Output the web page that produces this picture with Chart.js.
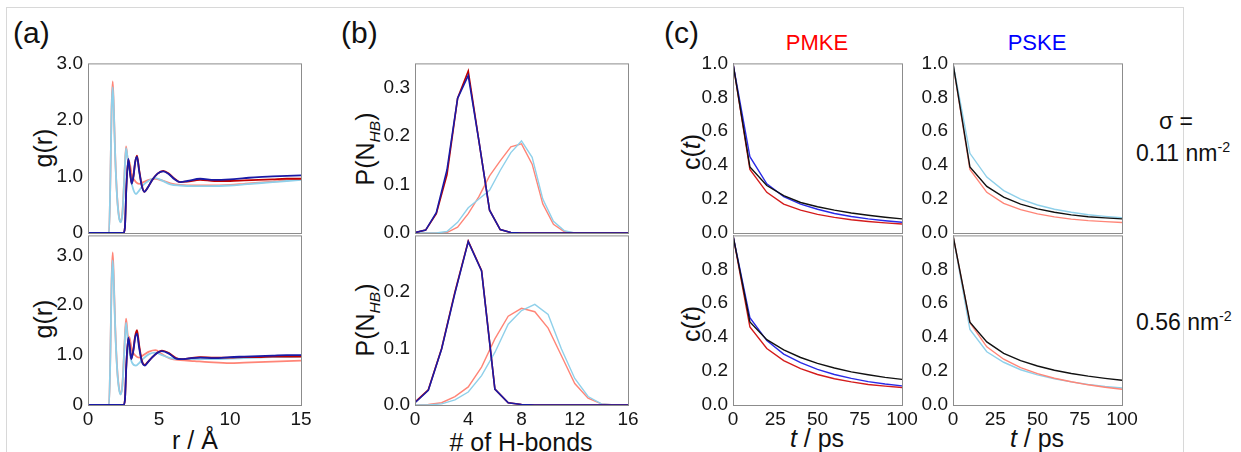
<!DOCTYPE html>
<html>
<head>
<meta charset="utf-8">
<script src="https://cdn.jsdelivr.net/npm/chart.js@4.4.0/dist/chart.umd.min.js"></script>
<style>
  body { margin: 0; width: 1241px; height: 452px; background: #fff; position: relative; overflow: hidden;
         font-family: 'Liberation Sans', Arial, sans-serif; color: #111; }
  .frame { position: absolute; left: 6px; top: 7px; width: 1176px; height: 470px; border: 1px solid #d8d8d8; }
  canvas { position: absolute; }
  .lbl { position: absolute; white-space: nowrap; line-height: 1; }
  .ctr { transform: translate(-50%, -50%); }
  .rot { transform: translate(-50%, -50%) rotate(-90deg); }
  .ax { font-size: 25px; }
  .pan { font-size: 30px; }
  .side { font-size: 23px; }
  sub, sup { font-size: 0.62em; line-height: 0; }
</style>
</head>
<body>
<div class="frame"></div>

<div class="lbl pan" style="left:13px; top:18px;">(a)</div>
<div class="lbl pan" style="left:341px; top:18px;">(b)</div>
<div class="lbl pan" style="left:664px; top:18px;">(c)</div>

<div class="lbl ctr" style="left:817px; top:43px; font-size:22px; color:#ff0000;">PMKE</div>
<div class="lbl ctr" style="left:1037px; top:43px; font-size:22px; color:#0000ff;">PSKE</div>

<div class="lbl side ctr" style="left:1176px; top:121px;">σ =</div>
<div class="lbl side" style="left:1136px; top:142px;">0.11 nm<sup>-2</sup></div>
<div class="lbl side" style="left:1136px; top:311px;">0.56 nm<sup>-2</sup></div>

<div class="lbl ax rot" style="left:43px; top:148px;">g(r)</div>
<div class="lbl ax rot" style="left:43px; top:319px;">g(r)</div>
<div class="lbl ax rot" style="left:365px; top:149px;">P(N<sub><i>HB</i></sub>)</div>
<div class="lbl ax rot" style="left:365px; top:320px;">P(N<sub><i>HB</i></sub>)</div>
<div class="lbl ax rot" style="left:691px; top:152px;">c(<i>t</i>)</div>
<div class="lbl ax rot" style="left:691px; top:324px;">c(<i>t</i>)</div>

<div class="lbl ax ctr" style="left:195px; top:440px;">r / Å</div>
<div class="lbl ax ctr" style="left:521px; top:442px;"># of H-bonds</div>
<div class="lbl ax ctr" style="left:817px; top:438px;"><i>t</i> / ps</div>
<div class="lbl ax ctr" style="left:1037px; top:438px;"><i>t</i> / ps</div>

<script>
// ---- g(r) data, sigma = 0.11 (top) and 0.56 (bottom) ----
const rLight = [0, 1.48, 1.58, 1.66, 1.74, 1.82, 1.92, 2.05, 2.18, 2.3, 2.42, 2.55, 2.68, 2.8, 2.92, 3.1, 3.38, 3.6, 3.9, 4.3, 4.75, 5.2, 5.8, 6.5, 7.5, 8.5, 10, 11, 12, 13, 14, 15];
const gSalmonTop = [0, 0, 1.0, 2.2, 2.68, 2.2, 1.35, 0.65, 0.3, 0.2, 0.35, 0.95, 1.53, 1.3, 1.25, 1.02, 0.9, 0.87, 0.9, 0.94, 0.96, 0.93, 0.88, 0.85, 0.84, 0.84, 0.85, 0.87, 0.89, 0.91, 0.93, 0.95];
const gSkyTop = [0, 0, 1.0, 2.15, 2.58, 2.15, 1.32, 0.63, 0.28, 0.19, 0.33, 0.92, 1.5, 1.3, 1.1, 0.85, 0.69, 0.75, 0.85, 0.93, 0.97, 0.93, 0.86, 0.84, 0.83, 0.83, 0.84, 0.86, 0.88, 0.9, 0.92, 0.94];
const gSalmonBot = [0, 0, 1.1, 2.5, 3.06, 2.5, 1.55, 0.75, 0.35, 0.22, 0.4, 1.1, 1.73, 1.4, 1.35, 1.1, 0.98, 0.95, 1.0, 1.07, 1.1, 1.02, 0.93, 0.9, 0.88, 0.86, 0.84, 0.85, 0.86, 0.87, 0.88, 0.89];
const gSkyBot = [0, 0, 1.05, 2.4, 2.9, 2.4, 1.5, 0.72, 0.33, 0.21, 0.38, 1.05, 1.65, 1.3, 1.05, 0.85, 0.79, 0.84, 0.93, 1.02, 1.05, 1.0, 0.94, 0.92, 0.92, 0.92, 0.93, 0.94, 0.95, 0.96, 0.96, 0.97];

const rDarkTop = [0, 2.5, 2.6, 2.7, 2.84, 2.95, 3.08, 3.2, 3.32, 3.45, 3.6, 3.8, 3.97, 4.2, 4.5, 4.9, 5.3, 5.7, 6.1, 6.5, 7.0, 7.9, 8.9, 10, 11, 12, 13, 14, 15];
const gBlueTop = [0, 0, 0.1, 0.8, 1.31, 1.1, 0.87, 1.0, 1.25, 1.35, 1.1, 0.82, 0.73, 0.8, 0.93, 1.05, 1.09, 1.04, 0.95, 0.9, 0.92, 0.96, 0.94, 0.95, 0.97, 0.99, 1.0, 1.01, 1.02];
const gRedTop = [0, 0, 0.1, 0.8, 1.3, 1.1, 0.88, 1.0, 1.25, 1.37, 1.12, 0.83, 0.73, 0.8, 0.93, 1.05, 1.1, 1.05, 0.96, 0.9, 0.91, 0.94, 0.92, 0.92, 0.93, 0.94, 0.95, 0.96, 0.96];
const rDarkBot = [0, 2.5, 2.6, 2.7, 2.84, 2.95, 3.05, 3.2, 3.32, 3.45, 3.6, 3.8, 4.0, 4.2, 4.5, 4.9, 5.2, 5.7, 6.2, 6.6, 7.0, 7.9, 8.9, 10, 11, 12, 13, 14, 15];
const gBlueBot = [0, 0, 0.1, 0.8, 1.35, 1.15, 0.92, 1.1, 1.35, 1.43, 1.15, 0.86, 0.79, 0.85, 0.95, 1.05, 1.08, 1.03, 0.93, 0.92, 0.93, 0.95, 0.94, 0.96, 0.97, 0.98, 0.99, 1.0, 1.0];
const gRedBot = [0, 0, 0.1, 0.8, 1.33, 1.15, 0.93, 1.12, 1.38, 1.5, 1.2, 0.88, 0.8, 0.86, 0.95, 1.05, 1.09, 1.04, 0.94, 0.92, 0.93, 0.96, 0.95, 0.95, 0.96, 0.96, 0.97, 0.97, 0.97];

// ---- H-bond distributions ----
const nhbTop = [0, 0.8, 1.6, 2.4, 3.2, 4.0, 4.8, 5.6, 6.4, 7.2, 8.0, 8.8, 9.6, 10.4, 11.2, 12.0, 12.8, 13.6, 14.4, 15.2, 16.0];
const pRedTop = [0.001, 0.006, 0.04, 0.12, 0.278, 0.334, 0.19, 0.047, 0.007, 0.001, 0, 0, 0, 0, 0, 0, 0, 0, 0, 0, 0];
const pBlueTop = [0.001, 0.006, 0.042, 0.13, 0.278, 0.325, 0.19, 0.047, 0.007, 0.001, 0, 0, 0, 0, 0, 0, 0, 0, 0, 0, 0];
const pSalmonTop = [0, 0, 0, 0.001, 0.012, 0.04, 0.075, 0.118, 0.149, 0.178, 0.184, 0.142, 0.06, 0.018, 0.003, 0, 0, 0, 0, 0, 0];
const pSkyTop = [0, 0, 0, 0.003, 0.022, 0.052, 0.07, 0.088, 0.129, 0.166, 0.19, 0.156, 0.07, 0.024, 0.005, 0, 0, 0, 0, 0, 0];

const nhbBot = [0, 1, 2, 3, 4, 5, 6, 7, 8, 9, 10, 11, 12, 13, 14, 15, 16];
const pRedBot = [0.005, 0.027, 0.1, 0.2, 0.29, 0.238, 0.028, 0.004, 0.001, 0, 0, 0, 0, 0, 0, 0, 0];
const pBlueBot = [0.004, 0.026, 0.099, 0.198, 0.289, 0.237, 0.028, 0.004, 0.001, 0, 0, 0, 0, 0, 0, 0, 0];
const pSalmonBot = [0, 0.001, 0.004, 0.015, 0.032, 0.067, 0.117, 0.157, 0.171, 0.165, 0.136, 0.087, 0.038, 0.012, 0.002, 0, 0];
const pSkyBot = [0, 0, 0.002, 0.009, 0.023, 0.052, 0.093, 0.143, 0.167, 0.178, 0.16, 0.099, 0.047, 0.015, 0.002, 0, 0];

// ---- c(t) autocorrelation ----
const tPs = [0, 10, 20, 30, 40, 50, 60, 70, 80, 90, 100];
const cPmBlackTop = [1, 0.39, 0.28, 0.22, 0.18, 0.155, 0.135, 0.118, 0.105, 0.093, 0.083];
const cPmBlueTop = [1, 0.45, 0.29, 0.215, 0.17, 0.14, 0.115, 0.097, 0.083, 0.072, 0.063];
const cPmRedTop = [1, 0.375, 0.24, 0.17, 0.135, 0.11, 0.092, 0.078, 0.068, 0.06, 0.053];
const cPmBlackBot = [1, 0.49, 0.385, 0.325, 0.28, 0.245, 0.218, 0.195, 0.178, 0.163, 0.151];
const cPmBlueBot = [1, 0.515, 0.38, 0.3, 0.25, 0.21, 0.18, 0.157, 0.138, 0.124, 0.113];
const cPmRedBot = [1, 0.46, 0.333, 0.262, 0.215, 0.18, 0.155, 0.136, 0.121, 0.111, 0.103];
const cPsBlackTop = [1, 0.39, 0.275, 0.212, 0.17, 0.142, 0.122, 0.107, 0.096, 0.089, 0.083];
const cPsSkyTop = [1, 0.47, 0.33, 0.25, 0.2, 0.165, 0.14, 0.122, 0.108, 0.098, 0.09];
const cPsSalmonTop = [1, 0.375, 0.24, 0.175, 0.138, 0.113, 0.095, 0.082, 0.073, 0.067, 0.062];
const cPsBlackBot = [1, 0.488, 0.372, 0.305, 0.262, 0.23, 0.205, 0.186, 0.17, 0.157, 0.146];
const cPsSalmonBot = [1, 0.485, 0.343, 0.27, 0.22, 0.185, 0.158, 0.137, 0.119, 0.105, 0.093];
const cPsSkyBot = [1, 0.446, 0.314, 0.252, 0.208, 0.178, 0.155, 0.136, 0.121, 0.109, 0.1];

// tick labels
const gXTicks = [0, 5, 10, 15];
const gYTicks = [0, 1, 2, 3];
const hXTicks = [0, 4, 8, 12, 16];
const hYTicksTop = [0, 0.1, 0.2, 0.3];
const hYTicksBot = [0, 0.1, 0.2];
const cXTicks = [0, 25, 50, 75, 100];
const cYTicksTop = [0, 0.2, 0.4, 0.6, 0.8, 1.0];
const cYTicksBot = [0, 0.2, 0.4, 0.6, 0.8];

// colours
const DARKRED = '#c00000';
const DARKBLUE = '#1a1aa6';
const SALMON = '#ff8577';
const SKY = '#8fd0ea';
const RED = '#d41c1c';
const BLUE = '#2a2ae6';
const BLACK = '#111111';

Chart.defaults.font.family = "'Liberation Sans', Arial, sans-serif";
Chart.defaults.font.size = 19;
Chart.defaults.color = '#161616';

// plot boxes (left, right) and rows (top, bottom)
const cols = { a: [88, 301], b: [415, 628], c1: [733, 902], c2: [953, 1122] };
const rows = [[61, 233], [233, 405]];
const PAD_L = 60, PAD_T = 14, PAD_R = 22, PAD_B = 30;

const framePlugin = {
    id: 'frame',
    afterDraw(chart) {
        const a = chart.chartArea;
        const ctx = chart.ctx;
        ctx.save();
        ctx.strokeStyle = '#8c8c8c';
        ctx.lineWidth = 1;
        ctx.strokeRect(a.left + 0.5, a.top + 0.5, a.right - a.left, a.bottom - a.top);
        ctx.restore();
    }
};

function line(xs, ys, color, width, smooth) {
    return {
        data: xs.map((x, i) => ({ x: x, y: ys[i] })),
        borderColor: color,
        borderWidth: width,
        pointRadius: 0,
        fill: false,
        cubicInterpolationMode: smooth ? 'monotone' : 'default',
        tension: 0
    };
}

// note: chart.js paints the first dataset on top, so lists go top -> bottom
function makeChart(col, row, datasets, xMax, xTicks, yMax, yTicks, showX, yFmt) {
    const [l, r] = cols[col];
    const [t, b] = rows[row];
    const cv = document.createElement('canvas');
    cv.width = (r - l) + PAD_L + PAD_R;
    cv.height = (b - t) + PAD_T + PAD_B;
    cv.style.left = (l - PAD_L) + 'px';
    cv.style.top = (t - PAD_T) + 'px';
    document.body.appendChild(cv);

    return new Chart(cv, {
        type: 'line',
        data: { datasets: datasets },
        options: {
            responsive: false,
            animation: false,
            events: [],
            layout: { padding: { top: PAD_T, right: PAD_R, left: 0, bottom: 0 } },
            plugins: { legend: { display: false }, tooltip: { enabled: false } },
            scales: {
                x: {
                    type: 'linear',
                    min: 0,
                    max: xMax,
                    grid: { display: false, drawTicks: false },
                    border: { display: false },
                    ticks: { display: showX, padding: 3, maxRotation: 0, autoSkip: false, callback: v => String(v) },
                    afterBuildTicks: s => { s.ticks = xTicks.map(v => ({ value: v })); },
                    afterFit: s => { s.height = PAD_B; }
                },
                y: {
                    min: 0,
                    max: yMax,
                    grid: { display: false, drawTicks: false },
                    border: { display: false },
                    ticks: { padding: 5, autoSkip: false, callback: yFmt },
                    afterBuildTicks: s => { s.ticks = yTicks.map(v => ({ value: v })); },
                    afterFit: s => { s.width = PAD_L; }
                }
            }
        },
        plugins: [framePlugin]
    });
}

const fmtG = v => (v === 0 ? '0' : v.toFixed(1));
const fmt1 = v => v.toFixed(1);

// (a) g(r)
makeChart('a', 0, [
    line(rDarkTop, gBlueTop, DARKBLUE, 1.8, true),
    line(rDarkTop, gRedTop, DARKRED, 1.8, true),
    line(rLight, gSkyTop, SKY, 1.8, true),
    line(rLight, gSalmonTop, SALMON, 1.8, true)
], 15, gXTicks, 3.0, gYTicks, false, fmtG);

makeChart('a', 1, [
    line(rDarkBot, gBlueBot, DARKBLUE, 1.8, true),
    line(rDarkBot, gRedBot, DARKRED, 1.8, true),
    line(rLight, gSkyBot, SKY, 1.8, true),
    line(rLight, gSalmonBot, SALMON, 1.8, true)
], 15, gXTicks, 3.4, gYTicks, true, fmtG);

// (b) H-bond distribution
makeChart('b', 0, [
    line(nhbTop, pBlueTop, DARKBLUE, 1.6, false),
    line(nhbTop, pRedTop, DARKRED, 1.6, false),
    line(nhbTop, pSkyTop, SKY, 1.4, false),
    line(nhbTop, pSalmonTop, SALMON, 1.4, false)
], 16, hXTicks, 0.35, hYTicksTop, false, fmt1);

makeChart('b', 1, [
    line(nhbBot, pBlueBot, DARKBLUE, 1.6, false),
    line(nhbBot, pRedBot, DARKRED, 1.6, false),
    line(nhbBot, pSkyBot, SKY, 1.4, false),
    line(nhbBot, pSalmonBot, SALMON, 1.4, false)
], 16, hXTicks, 0.30, hYTicksBot, true, fmt1);

// (c) PMKE
makeChart('c1', 0, [
    line(tPs, cPmBlackTop, BLACK, 1.4, false),
    line(tPs, cPmBlueTop, BLUE, 1.4, false),
    line(tPs, cPmRedTop, RED, 1.4, false)
], 100, cXTicks, 1.0, cYTicksTop, false, fmt1);

makeChart('c1', 1, [
    line(tPs, cPmBlackBot, BLACK, 1.4, false),
    line(tPs, cPmBlueBot, BLUE, 1.4, false),
    line(tPs, cPmRedBot, RED, 1.4, false)
], 100, cXTicks, 1.0, cYTicksBot, true, fmt1);

// (c) PSKE
makeChart('c2', 0, [
    line(tPs, cPsBlackTop, BLACK, 1.4, false),
    line(tPs, cPsSkyTop, SKY, 1.4, false),
    line(tPs, cPsSalmonTop, SALMON, 1.4, false)
], 100, cXTicks, 1.0, cYTicksTop, false, fmt1);

makeChart('c2', 1, [
    line(tPs, cPsBlackBot, BLACK, 1.4, false),
    line(tPs, cPsSalmonBot, SALMON, 1.4, false),
    line(tPs, cPsSkyBot, SKY, 1.4, false)
], 100, cXTicks, 1.0, cYTicksBot, true, fmt1);
</script>
</body>
</html>
